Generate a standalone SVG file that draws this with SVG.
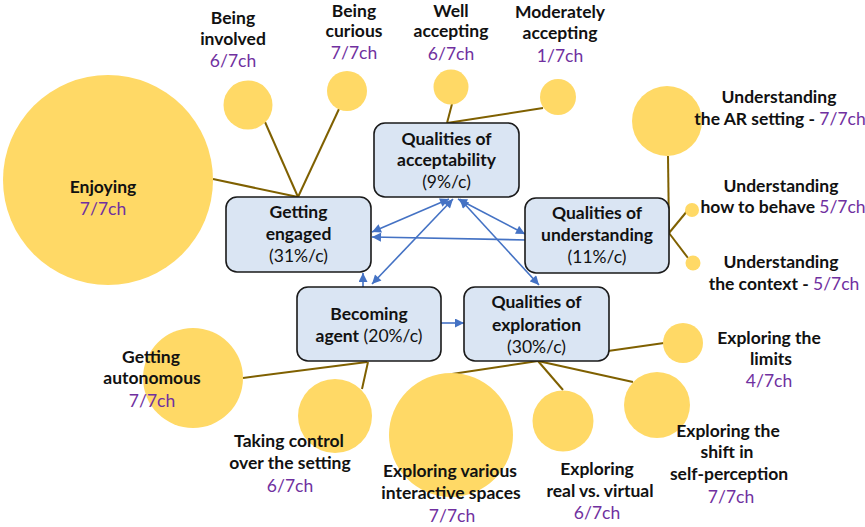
<svg xmlns="http://www.w3.org/2000/svg" width="865" height="527" viewBox="0 0 865 527">
<defs>
<marker id="ah" viewBox="0 0 10 10" refX="10" refY="5" markerWidth="10" markerHeight="9" markerUnits="userSpaceOnUse" orient="auto-start-reverse">
<path d="M0,0 L10,5 L0,10 z" fill="#4472C4"/>
</marker>
<style>
.bg{fill:#ffffff}
.c{fill:#FFD966}
.box{fill:#DAE5F3;stroke:#1a1a1a;stroke-width:1.6}
.br{stroke:#7F6000;stroke-width:2;fill:none}
.bl{stroke:#4472C4;stroke-width:1.6;fill:none}
text{font-family:Lato,"Open Sans","Liberation Sans",sans-serif;font-size:17.5px;fill:#111;text-anchor:middle}
.b{font-weight:bold}
.r{font-weight:normal}
.p{fill:#7030A0;font-weight:normal}
</style>
</defs>
<rect class="bg" width="865" height="527"/>
<g id="connectors">
<line class="br" x1="213" y1="179" x2="298" y2="197"/>
<line class="br" x1="265" y1="122" x2="298" y2="197"/>
<line class="br" x1="339" y1="109" x2="298" y2="197"/>
<line class="br" x1="452" y1="104" x2="447" y2="123"/>
<line class="br" x1="543" y1="108" x2="447" y2="123"/>
<line class="br" x1="668" y1="156" x2="669" y2="233"/>
<line class="br" x1="688" y1="210" x2="669" y2="233"/>
<line class="br" x1="688" y1="258" x2="669" y2="233"/>
<line class="br" x1="243" y1="378" x2="367" y2="362"/>
<line class="br" x1="362" y1="389" x2="368" y2="362"/>
<line class="br" x1="452" y1="374" x2="538" y2="361"/>
<line class="br" x1="664" y1="343" x2="538" y2="361"/>
<line class="br" x1="563" y1="390" x2="538" y2="361"/>
<line class="br" x1="633" y1="382" x2="538" y2="361"/>
<line class="bl" x1="449" y1="199" x2="372" y2="232" marker-start="url(#ah)" marker-end="url(#ah)"/>
<line class="bl" x1="453" y1="199" x2="372" y2="284" marker-start="url(#ah)" marker-end="url(#ah)"/>
<line class="bl" x1="458" y1="199" x2="525" y2="234" marker-start="url(#ah)" marker-end="url(#ah)"/>
<line class="bl" x1="460" y1="199" x2="539" y2="285" marker-start="url(#ah)" marker-end="url(#ah)"/>
<line class="bl" x1="527" y1="240" x2="372" y2="237" marker-end="url(#ah)"/>
<line class="bl" x1="363" y1="287" x2="363" y2="273" marker-end="url(#ah)"/>
<line class="bl" x1="441" y1="323" x2="464" y2="323" marker-end="url(#ah)"/>
</g>
<g id="acceptability">
<rect class="box" x="374" y="123" width="145" height="74" rx="11"/>
<text class="b" x="446.5" y="145">Qualities of</text>
<text class="b" x="446.5" y="166">acceptability</text>
<text class="r" x="446.5" y="188">(9%/c)</text>
</g>
<g id="engaged">
<rect class="box" x="226" y="197" width="145" height="75" rx="11"/>
<text class="b" x="298.5" y="218">Getting</text>
<text class="b" x="298.5" y="240">engaged</text>
<text class="r" x="298.5" y="262">(31%/c)</text>
</g>
<g id="understanding">
<rect class="box" x="525" y="198" width="144" height="75" rx="11"/>
<text class="b" x="597" y="219">Qualities of</text>
<text class="b" x="597" y="241">understanding</text>
<text class="r" x="597" y="263">(11%/c)</text>
</g>
<g id="agent">
<rect class="box" x="297" y="287" width="144" height="74" rx="11"/>
<text class="b" x="369" y="320">Becoming</text>
<text x="369" y="342"><tspan class="b">agent</tspan><tspan class="r"> (20%/c)</tspan></text>
</g>
<g id="exploration">
<rect class="box" x="464" y="287" width="145" height="74" rx="11"/>
<text class="b" x="536.5" y="308">Qualities of</text>
<text class="b" x="536.5" y="331">exploration</text>
<text class="r" x="536.5" y="353">(30%/c)</text>
</g>
<g id="enjoying">
<circle class="c" cx="108" cy="180" r="105"/>
<text class="b" x="103" y="193">Enjoying</text>
<text class="p" x="103" y="215">7/7ch</text>
</g>
<g id="involved">
<circle class="c" cx="248" cy="105" r="24.5"/>
<text class="b" x="233" y="24">Being</text>
<text class="b" x="233" y="45">involved</text>
<text class="p" x="233" y="67">6/7ch</text>
</g>
<g id="curious">
<circle class="c" cx="347" cy="91" r="20"/>
<text class="b" x="354" y="17">Being</text>
<text class="b" x="354" y="37">curious</text>
<text class="p" x="354" y="59">7/7ch</text>
</g>
<g id="well">
<circle class="c" cx="451" cy="87" r="17.5"/>
<text class="b" x="451" y="17">Well</text>
<text class="b" x="451" y="37">accepting</text>
<text class="p" x="451" y="60">6/7ch</text>
</g>
<g id="moderately">
<circle class="c" cx="558" cy="97" r="18"/>
<text class="b" x="560" y="18">Moderately</text>
<text class="b" x="560" y="39">accepting</text>
<text class="p" x="560" y="62">1/7ch</text>
</g>
<g id="ar-setting">
<circle class="c" cx="667" cy="121" r="35"/>
<text class="b" x="779" y="103">Understanding</text>
<text class="b" x="780" y="125">the AR setting - <tspan class="p">7/7ch</tspan></text>
</g>
<g id="behave">
<circle class="c" cx="692" cy="210" r="7"/>
<text class="b" x="781" y="192">Understanding</text>
<text class="b" x="783" y="213">how to behave <tspan class="p">5/7ch</tspan></text>
</g>
<g id="context">
<circle class="c" cx="693" cy="263" r="7.5"/>
<text class="b" x="781" y="268">Understanding</text>
<text class="b" x="784" y="290">the context - <tspan class="p">5/7ch</tspan></text>
</g>
<g id="autonomous">
<circle class="c" cx="193" cy="378" r="50"/>
<text class="b" x="151" y="363">Getting</text>
<text class="b" x="152" y="384">autonomous</text>
<text class="p" x="152" y="407">7/7ch</text>
</g>
<g id="control">
<circle class="c" cx="335" cy="416" r="37"/>
<text class="b" x="289" y="447">Taking control</text>
<text class="b" x="290" y="469">over the setting</text>
<text class="p" x="290" y="492">6/7ch</text>
</g>
<g id="various">
<circle class="c" cx="451" cy="435" r="62"/>
<text class="b" x="450" y="477">Exploring various</text>
<text class="b" x="451" y="499">interactive spaces</text>
<text class="p" x="452" y="522">7/7ch</text>
</g>
<g id="real">
<circle class="c" cx="563" cy="421" r="30.5"/>
<text class="b" x="597" y="475">Exploring</text>
<text class="b" x="600" y="497">real vs. virtual</text>
<text class="p" x="597" y="519">6/7ch</text>
</g>
<g id="shift">
<circle class="c" cx="657" cy="405" r="33"/>
<text class="b" x="728" y="437">Exploring the</text>
<text class="b" x="727" y="458">shift in</text>
<text class="b" x="729" y="480">self-perception</text>
<text class="p" x="731" y="503">7/7ch</text>
</g>
<g id="limits">
<circle class="c" cx="683" cy="343" r="20"/>
<text class="b" x="769" y="344">Exploring the</text>
<text class="b" x="771" y="365">limits</text>
<text class="p" x="769" y="387">4/7ch</text>
</g>
</svg>
